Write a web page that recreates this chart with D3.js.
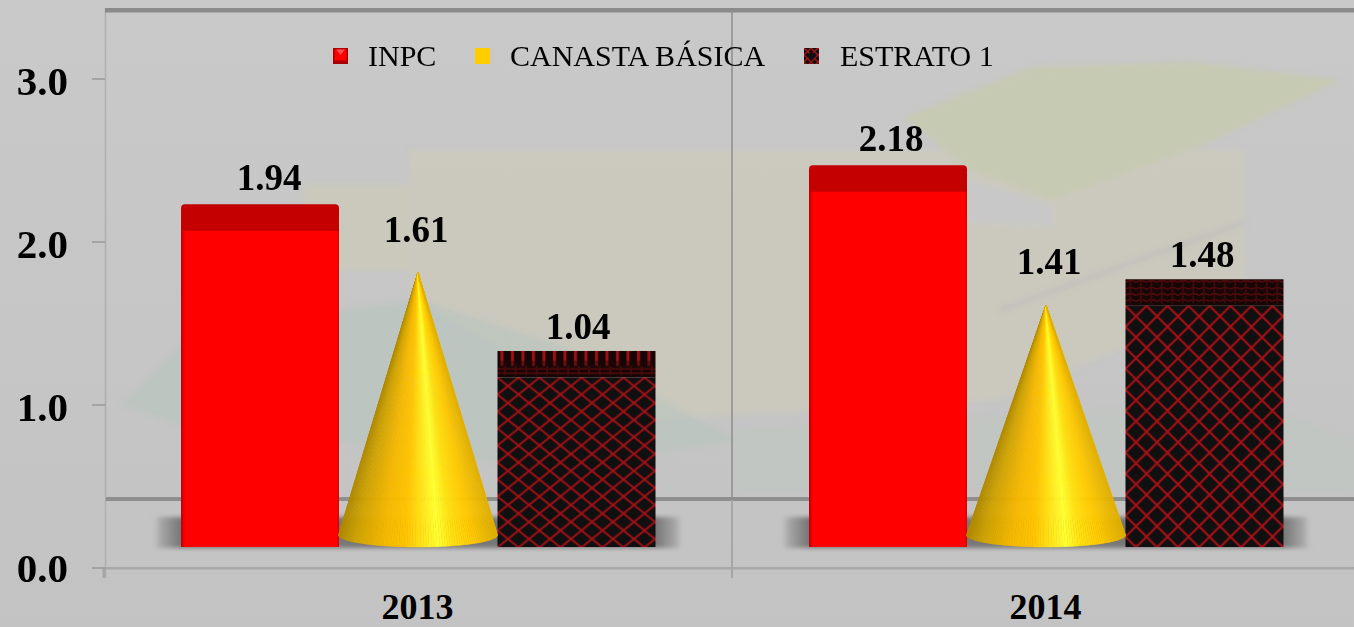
<!DOCTYPE html>
<html><head><meta charset="utf-8">
<script src="https://cdn.jsdelivr.net/npm/d3@7/dist/d3.min.js"></script>
<style>html,body{margin:0;padding:0;background:#c6c6c6;overflow:hidden}svg{display:block}
text{font-family:"Liberation Serif",serif;fill:#000}</style></head>
<body><svg id="c" width="1354" height="627"></svg>
<script>
const years = ["2013","2014"];
const seriesNames = ["INPC","CANASTA BÁSICA","ESTRATO 1"];
const inpc = [1.94,2.18];
const canasta = [1.61,1.41];
const estrato = [1.04,1.48];
const yTicks = [0,1,2,3];

const W=1354,H=627;
const svg=d3.select("#c");
const defs=svg.append("defs");
const y=d3.scaleLinear().domain([0,3]).range([567.5,78.5]);
const x0=d3.scaleBand().domain(years).range([104,1360]);
const x1=d3.scaleBand().domain(seriesNames).range([77,551]);
const frontDrop=20.5, depth=26.5, coneRy=12;
const baseY=y(0)-frontDrop;

// defs
const bg=defs.append("linearGradient").attr("id","bg").attr("x1",0).attr("y1",0).attr("x2",0).attr("y2",1);
bg.append("stop").attr("offset",0).attr("stop-color","#c9c9c9");
bg.append("stop").attr("offset",1).attr("stop-color","#c3c3c3");
defs.append("filter").attr("id","soft").attr("x","-10%").attr("y","-10%").attr("width","120%").attr("height","120%")
  .append("feGaussianBlur").attr("stdDeviation",2.5);
defs.append("filter").attr("id","shadowBlur").attr("x","-10%").attr("y","-30%").attr("width","120%").attr("height","160%")
  .append("feGaussianBlur").attr("stdDeviation",2);
const sg=defs.append("linearGradient").attr("id","shadowFill");
[[0,"#c4c4c4"],[.012,"#a8a8a8"],[.05,"#777"],[.95,"#777"],[.988,"#a8a8a8"],[1,"#c4c4c4"]]
 .forEach(d=>sg.append("stop").attr("offset",d[0]).attr("stop-color",d[1]));
const rg=defs.append("linearGradient").attr("id","redFront");
[[0,"#b80000"],[.018,"#f00000"],[.03,"#ff0000"],[.985,"#ff0000"],[1,"#d80000"]]
 .forEach(d=>rg.append("stop").attr("offset",d[0]).attr("stop-color",d[1]));
const coneStops=[[0,"#b08a00"],[.1,"#cfa300"],[.28,"#f5b800"],[.42,"#ffc400"],[.56,"#ffec20"],[.63,"#ffff30"],[.72,"#ffe010"],[.85,"#ffc800"],[1,"#e0b000"]];
const coneColor=d3.scaleLinear().domain(coneStops.map(d=>d[0])).range(coneStops.map(d=>d[1]));
function hatch(id,w,h,px,py,sw){
  const p=defs.append("pattern").attr("id",id).attr("patternUnits","userSpaceOnUse").attr("width",w).attr("height",h).attr("x",px).attr("y",py);
  p.append("rect").attr("width",w).attr("height",h).attr("fill","#101010");
  p.append("path").attr("d",`M0,0L${w},${h}M${w},0L0,${h}`).attr("stroke","#a81016").attr("stroke-width",sw).attr("fill","none");
}
function topHatch(id,px,py,strong){
  const w=10.5,h=depth;
  const p=defs.append("pattern").attr("id",id).attr("patternUnits","userSpaceOnUse").attr("width",w).attr("height",h).attr("x",px).attr("y",py);
  p.append("rect").attr("width",w).attr("height",h).attr("fill","#170606");
  if(strong){
    p.append("rect").attr("x",3).attr("width",3).attr("height",10).attr("fill","#a01015");
    p.append("rect").attr("x",3).attr("y",10).attr("width",3).attr("height",5).attr("fill","#6a0c10");
    p.append("path").attr("d",`M0,18H${w}M0,22H${w}`).attr("stroke","#560a0d").attr("stroke-width",1.5);
    p.append("rect").attr("x",7).attr("y",15).attr("width",1.5).attr("height",9).attr("fill","#4a0a0c");
  } else {
    p.append("path").attr("d",`M0,3Q5,0 ${w},3M0,10Q5,7 ${w},10M0,16Q5,13 ${w},16M0,22Q5,19 ${w},22`).attr("stroke","#5c0a0e").attr("stroke-width",1.3).attr("fill","none");
    p.append("rect").attr("x",4).attr("y",2).attr("width",1.6).attr("height",22).attr("fill","#420a0c");
  }
}
hatch("hatchLegend",7,7,0,0,1.4);

svg.append("rect").attr("width",W).attr("height",H).attr("fill","url(#bg)");

// faint map picture behind the chart
const decor=[
 {c:"#cdcabb",o:.7,d:"M410,150L1245,150L1245,300L1130,345L1000,400L640,420L410,300Z"},
 {c:"#cdcab8",o:.7,d:"M304,185L410,185L410,270L304,270Z"},
 {c:"#c8c8c8",o:1,d:"M967,178L1052,205L1052,226L967,222Z"},
 {c:"#c7cab0",o:.9,d:"M905,117L1033,67L1190,62L1340,80L1208,143L1052,200L965,167Z"},
 {c:"#b9c4bd",o:.7,d:"M122,405L186,340L300,315L420,300L560,345L700,420L740,440L560,470L400,450L250,430L180,425Z"},
 {c:"#bec6bf",o:.55,d:"M735,430L1000,415L1240,400L1354,440L1354,490L735,490Z"}
];
const dg=svg.append("g").attr("filter","url(#soft)");
dg.selectAll("path").data(decor).join("path").attr("d",d=>d.d).attr("fill",d=>d.c).attr("opacity",d=>d.o);
svg.append("path").attr("d","M1000,310L1245,222").attr("stroke","#bfc0bc").attr("stroke-width",4).attr("fill","none").attr("filter","url(#soft)");

// walls
const left=x0.range()[0], mid=x0(years[1]);
svg.append("line").attr("x1",105.5).attr("x2",105.5).attr("y1",8).attr("y2",578).attr("stroke","#aeaeae").attr("stroke-width",1.5);
svg.append("rect").attr("x",105).attr("y",8).attr("width",W-105).attr("height",4.5).attr("fill","#8a8a8a");
svg.append("line").attr("x1",mid).attr("x2",mid).attr("y1",10).attr("y2",498).attr("stroke","#8c8c8c").attr("stroke-width",1.5);
svg.append("rect").attr("x",106).attr("y",497).attr("width",W-106).attr("height",4).attr("fill","#8e8e8e");
svg.append("line").attr("x1",mid).attr("x2",mid).attr("y1",500).attr("y2",578).attr("stroke","#a6a6a6").attr("stroke-width",2);
svg.append("rect").attr("x",105).attr("y",y(0)-.5).attr("width",W-105).attr("height",2.5).attr("fill","#a8a8a8");
svg.append("line").attr("x1",left).attr("x2",left).attr("y1",567).attr("y2",578).attr("stroke","#a6a6a6").attr("stroke-width",3);

// y axis
const ax=d3.axisLeft(y).tickValues(yTicks).tickFormat(d3.format(".1f")).tickSize(13).tickPadding(0);
const ag=svg.append("g").attr("transform","translate(105,0)").call(ax);
ag.select(".domain").remove();
ag.selectAll(".tick line").attr("stroke","#999").attr("stroke-width",1.5);
ag.selectAll(".tick text").attr("x",-37).attr("dy",null).attr("y",16)
  .style("font-size","41px").style("font-weight","700").attr("text-anchor","end");
ag.attr("font-family",null).attr("font-size",null);
ag.selectAll(".tick").filter(d=>d===0).select("text").attr("y",14);

// x labels
svg.append("g").selectAll("text").data(years).join("text")
  .attr("x",d=>x0(d)+x1.range()[0]+x1.step()*1.5-.5).attr("y",619)
  .attr("text-anchor","middle").style("font-size","36px").style("font-weight","700").text(d=>d);

// floor shadows
svg.append("g").selectAll("rect").data(years).join("rect")
  .attr("x",d=>x0(d)+x1.range()[0]-27).attr("width",x1.range()[1]-x1.range()[0]+54)
  .attr("y",baseY-30).attr("height",31).attr("fill","url(#shadowFill)").attr("filter","url(#shadowBlur)");

const labelDx={"INPC":[9,3],"CANASTA BÁSICA":[-2,3],"ESTRATO 1":[2,-2]};
const bw=x1.bandwidth();
years.forEach((yr,i)=>{
  const g=svg.append("g");
  // INPC
  const xr=x0(yr)+x1(seriesNames[0]), tr=y(inpc[i])-frontDrop;
  g.append("rect").attr("x",xr).attr("y",tr-depth).attr("width",bw).attr("height",depth+6).attr("rx",4).attr("fill","#c40000");
  g.append("rect").attr("x",xr).attr("y",tr).attr("width",bw).attr("height",baseY-tr).attr("fill","url(#redFront)");
  // ESTRATO
  const xe=x0(yr)+x1(seriesNames[2])+.5, te=y(estrato[i])-frontDrop;
  topHatch("top"+yr,xe,te-depth,i===0);
  hatch("hatch"+yr,21,i===0?17:21,xe,te,i===0?1.8:2);
  g.append("rect").attr("x",xe).attr("y",te-depth).attr("width",bw).attr("height",depth).attr("fill",`url(#top${yr})`);
  g.append("rect").attr("x",xe).attr("y",te).attr("width",bw).attr("height",baseY-te).attr("fill",`url(#hatch${yr})`);
  // cone, built from wedges that meet at the apex
  const xc=x0(yr)+x1(seriesNames[1]), cx=xc+bw/2, by=baseY-coneRy, ty=y(canasta[i])-frontDrop-coneRy;
  const rx=bw/2+.5, n=90;
  const pts=d3.range(n+1).map(k=>{const a=Math.PI*k/n;return [cx-rx*Math.cos(a),by+coneRy*Math.sin(a)];});
  const cg=g.append("g");
  d3.range(n).forEach(k=>{
    const col=coneColor(((pts[k][0]+pts[k+1][0])/2-(cx-rx))/(2*rx));
    cg.append("path").attr("d",`M${cx},${ty}L${pts[k]}L${pts[k+1]}Z`).attr("fill",col).attr("stroke",col).attr("stroke-width",.5);
  });
  // labels
  const lab=(v,name,top)=>{
    g.append("text").attr("text-anchor","middle").style("font-size","37px").style("font-weight","700")
     .attr("x",x0(yr)+x1(name)+bw/2+labelDx[name][i]).attr("y",top).text(v.toFixed(2));
  };
  lab(inpc[i],seriesNames[0],tr-depth-14);
  lab(canasta[i],seriesNames[1],ty-31);
  lab(estrato[i],seriesNames[2],te-depth-12);
});

// legend
const legendX=[333,475,804], legendTextX=[368,510,840];
const lg=svg.append("g");
seriesNames.forEach((n,i)=>{
  const m=lg.append("g").attr("transform",`translate(${legendX[i]},48)`);
  if(i===0){
    m.append("rect").attr("width",15).attr("height",16).attr("fill","#a80000");
    m.append("rect").attr("x",1.5).attr("y",1.5).attr("width",12).attr("height",11).attr("fill","#ff0000");
    m.append("path").attr("d","M3,1.5L12,1.5L7.5,7Z").attr("fill","#ff5050");
  } else if(i===1){
    m.append("rect").attr("width",15).attr("height",16).attr("fill","#ffcc00");
  } else {
    m.append("rect").attr("width",15).attr("height",16).attr("fill","url(#hatchLegend)");
    m.append("path").attr("d","M7.5,3L12,8L7.5,13L3,8Z").attr("fill","#101010");
  }
  lg.append("text").attr("x",legendTextX[i]).attr("y",66).style("font-size","30px").text(n);
});
</script></body></html>
